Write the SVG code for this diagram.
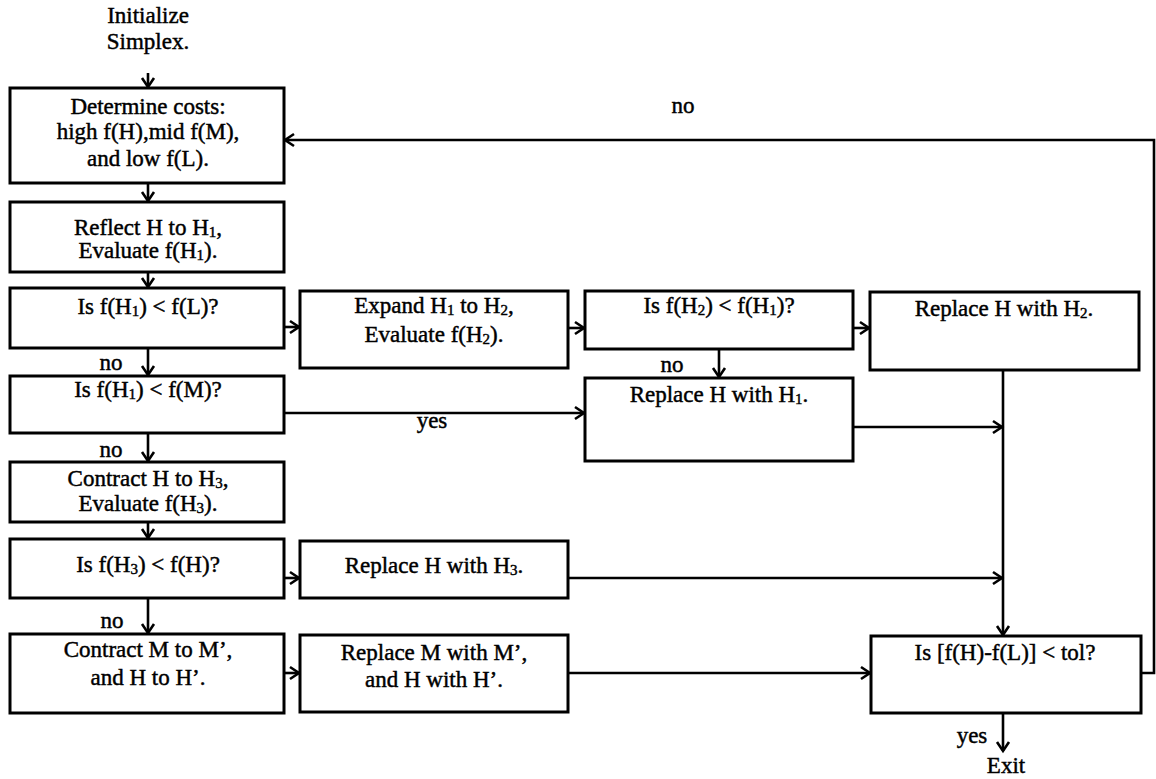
<svg xmlns="http://www.w3.org/2000/svg" width="1156" height="779" viewBox="0 0 1156 779">
<defs>
<style>
.box{fill:#fff;stroke:#000;stroke-width:3}
.t{font-family:"Liberation Serif","Times New Roman",serif;font-size:23px;fill:#000;stroke:#000;stroke-width:0.45;text-anchor:middle}
.s{font-size:15px}
.c{fill:none;stroke:#000;stroke-width:2.6}
</style>
<marker id="ah" markerUnits="userSpaceOnUse" markerWidth="16" markerHeight="16" viewBox="-12 -8 14 16" refX="0" refY="0" orient="auto">
<path d="M-9,-6 L0,0 L-9,6" fill="none" stroke="#000" stroke-width="2.6"/>
</marker>
</defs>
<rect width="1156" height="779" fill="#fff"/>

<g id="connectors">
<line class="c" x1="148" y1="73" x2="148" y2="87" marker-end="url(#ah)"/>
<line class="c" x1="148" y1="183" x2="148" y2="201" marker-end="url(#ah)"/>
<line class="c" x1="148" y1="272" x2="148" y2="287" marker-end="url(#ah)"/>
<line class="c" x1="148" y1="348" x2="148" y2="375" marker-end="url(#ah)"/>
<line class="c" x1="148" y1="433" x2="148" y2="461" marker-end="url(#ah)"/>
<line class="c" x1="148" y1="522" x2="148" y2="538" marker-end="url(#ah)"/>
<line class="c" x1="148" y1="598" x2="148" y2="633" marker-end="url(#ah)"/>
<line class="c" x1="284" y1="327" x2="299" y2="327" marker-end="url(#ah)"/>
<line class="c" x1="568" y1="328" x2="584" y2="328" marker-end="url(#ah)"/>
<line class="c" x1="853" y1="328" x2="869" y2="328" marker-end="url(#ah)"/>
<line class="c" x1="719" y1="349" x2="719" y2="377" marker-end="url(#ah)"/>
<line class="c" x1="284" y1="413" x2="584" y2="413" marker-end="url(#ah)"/>
<line class="c" x1="853" y1="427" x2="1002" y2="427" marker-end="url(#ah)"/>
<line class="c" x1="1003" y1="370" x2="1003" y2="635" marker-end="url(#ah)"/>
<line class="c" x1="284" y1="578" x2="299" y2="578" marker-end="url(#ah)"/>
<line class="c" x1="568" y1="578" x2="1002" y2="578" marker-end="url(#ah)"/>
<line class="c" x1="284" y1="673" x2="299" y2="673" marker-end="url(#ah)"/>
<line class="c" x1="568" y1="673" x2="870" y2="673" marker-end="url(#ah)"/>
<line class="c" x1="1003" y1="713" x2="1003" y2="751" marker-end="url(#ah)"/>
<polyline class="c" points="1141,673 1154,673 1154,140 285,140" marker-end="url(#ah)"/>
<text class="t" x="111" y="370">no</text>
<text class="t" x="111" y="457">no</text>
<text class="t" x="112" y="628">no</text>
<text class="t" x="672" y="372">no</text>
<text class="t" x="432" y="428">yes</text>
<text class="t" x="683" y="113">no</text>
<text class="t" x="972" y="743">yes</text>
</g>

<g id="start">
<text class="t" x="148" y="23">Initialize</text>
<text class="t" x="148" y="49">Simplex.</text>
</g>

<g id="determine">
<rect class="box" x="10" y="88" width="274" height="95"/>
<text class="t" x="148" y="114">Determine costs:</text>
<text class="t" x="148" y="139">high f(H),mid f(M),</text>
<text class="t" x="148" y="166">and low f(L).</text>
</g>

<g id="reflect">
<rect class="box" x="10" y="202" width="274" height="70"/>
<text class="t" x="148" y="235">Reflect H to H<tspan class="s" dy="2">1</tspan><tspan dy="-2">,</tspan></text>
<text class="t" x="148" y="258">Evaluate f(H<tspan class="s" dy="2">1</tspan><tspan dy="-2">).</tspan></text>
</g>

<g id="isH1L">
<rect class="box" x="10" y="288" width="274" height="60"/>
<text class="t" x="148" y="314">Is f(H<tspan class="s" dy="2">1</tspan><tspan dy="-2">) &lt; f(L)?</tspan></text>
</g>

<g id="isH1M">
<rect class="box" x="10" y="376" width="274" height="57"/>
<text class="t" x="148" y="397">Is f(H<tspan class="s" dy="2">1</tspan><tspan dy="-2">) &lt; f(M)?</tspan></text>
</g>

<g id="contractH">
<rect class="box" x="10" y="462" width="274" height="60"/>
<text class="t" x="148" y="486">Contract H to H<tspan class="s" dy="2">3</tspan><tspan dy="-2">,</tspan></text>
<text class="t" x="148" y="511">Evaluate f(H<tspan class="s" dy="2">3</tspan><tspan dy="-2">).</tspan></text>
</g>

<g id="isH3H">
<rect class="box" x="10" y="539" width="274" height="59"/>
<text class="t" x="148" y="572">Is f(H<tspan class="s" dy="2">3</tspan><tspan dy="-2">) &lt; f(H)?</tspan></text>
</g>

<g id="contractM">
<rect class="box" x="10" y="634" width="274" height="79"/>
<text class="t" x="148" y="657">Contract M to M’,</text>
<text class="t" x="148" y="685">and H to H’.</text>
</g>

<g id="expand">
<rect class="box" x="300" y="291" width="268" height="77"/>
<text class="t" x="434" y="313">Expand H<tspan class="s" dy="2">1</tspan><tspan dy="-2"> to H</tspan><tspan class="s" dy="2">2</tspan><tspan dy="-2">,</tspan></text>
<text class="t" x="434" y="342">Evaluate f(H<tspan class="s" dy="2">2</tspan><tspan dy="-2">).</tspan></text>
</g>

<g id="replaceH3">
<rect class="box" x="300" y="541" width="268" height="57"/>
<text class="t" x="434" y="573">Replace H with H<tspan class="s" dy="2">3</tspan><tspan dy="-2">.</tspan></text>
</g>

<g id="replaceM">
<rect class="box" x="300" y="635" width="268" height="77"/>
<text class="t" x="434" y="660">Replace M with M’,</text>
<text class="t" x="434" y="687">and H with H’.</text>
</g>

<g id="isH2H1">
<rect class="box" x="585" y="291" width="268" height="58"/>
<text class="t" x="719" y="313">Is f(H<tspan class="s" dy="2">2</tspan><tspan dy="-2">) &lt; f(H</tspan><tspan class="s" dy="2">1</tspan><tspan dy="-2">)?</tspan></text>
</g>

<g id="replaceH1">
<rect class="box" x="585" y="378" width="268" height="83"/>
<text class="t" x="719" y="402">Replace H with H<tspan class="s" dy="2">1</tspan><tspan dy="-2">.</tspan></text>
</g>

<g id="replaceH2">
<rect class="box" x="870" y="292" width="269" height="78"/>
<text class="t" x="1004" y="316">Replace H with H<tspan class="s" dy="2">2</tspan><tspan dy="-2">.</tspan></text>
</g>

<g id="tolerance">
<rect class="box" x="871" y="636" width="270" height="77"/>
<text class="t" x="1005" y="660">Is [f(H)-f(L)] &lt; tol?</text>
</g>

<g id="exit">
<text class="t" x="1006" y="773">Exit</text>
</g>
</svg>
